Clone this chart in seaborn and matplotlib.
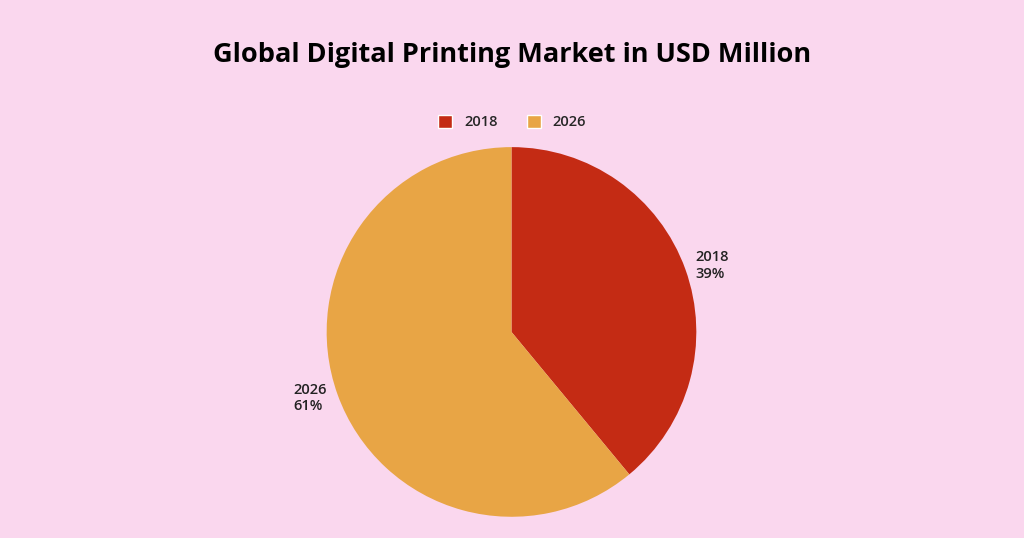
import matplotlib
matplotlib.use("Agg")
import matplotlib.pyplot as plt
import seaborn as sns
from matplotlib.patches import Patch

categories = ["2018", "2026"]
shares = [39, 61]
colors = ["#C42B14", "#E8A545"]
bg = "#FAD7EE"

sns.set_theme(style="white")
plt.rcParams['font.family'] = ['Open Sans', 'DejaVu Sans']

fig = plt.figure(figsize=(10.24, 5.38), dpi=100, facecolor=bg)
ax = fig.add_axes([0.319, 0.039, 0.361, 0.688])
ax.set_facecolor(bg)
labels = [f"{c}\n{s}%" for c, s in zip(categories, shares)]
wedges, texts = ax.pie(shares, labels=labels, colors=sns.color_palette(colors),
                       startangle=90, counterclock=False, labeldistance=1.06,
                       wedgeprops=dict(linewidth=0),
                       textprops=dict(fontsize=10.5, fontweight="semibold", color="#222222"))
for t in texts:
    t.set_multialignment("left")
ax.set_xlim(-1, 1)
ax.set_ylim(-1, 1)
ax.set_aspect("equal")
ax.axis("off")

fig.text(0.5, 0.898, "Global Digital Printing Market in USD Million", ha="center", va="center",
         fontsize=19.5, fontweight="bold", color="black")
handles = [Patch(facecolor=c, label=l) for c, l in zip(colors, categories)]
fig.legend(handles=handles, loc="center", bbox_to_anchor=(0.5, 0.773), ncol=2, frameon=False,
           handlelength=1.0, handleheight=1.0, columnspacing=2.0,
           prop=dict(weight="semibold", size=10.5))
fig.savefig("out.png", dpi=100, facecolor=bg)
